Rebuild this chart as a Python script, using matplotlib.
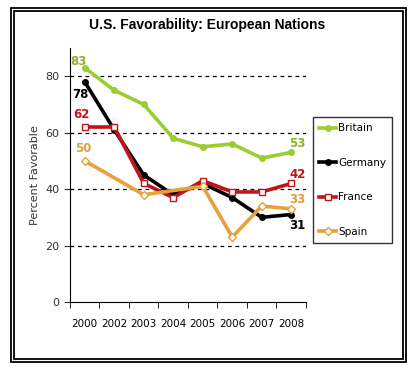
import numpy as np
import matplotlib
matplotlib.use("Agg")
import matplotlib.pyplot as plt
from matplotlib.patches import Rectangle

''' Data '''
years = ["2000", "2002", "2003", "2004", "2005", "2006", "2007", "2008"]
britain = [83, 75, 70, 58, 55, 56, 51, 53]
germany = [78, 61, 45, 38, 42, 37, 30, 31]
france = [62, 62, 42, 37, 43, 39, 39, 42]
spain = [50, np.nan, 38, np.nan, 41, 23, 34, 33]

''' Colours '''
c_brit = "#9ACD32"
c_ger = "#000000"
c_fra = "#C0141C"
c_spa = "#E8A03A"

fig = plt.figure(figsize=(4.14, 3.76), dpi=100)

# double frame round the whole picture
for (x0, y0, x1, y1) in [(11, 8, 406, 362), (14, 11, 403, 359)]:
    fig.patches.append(Rectangle((x0 / 414, 1 - y1 / 376), (x1 - x0) / 414, (y1 - y0) / 376,
                                 transform=fig.transFigure, fill=False, lw=1.3, ec="black"))

fig.text(0.5, 1 - 25 / 376, "U.S. Favorability: European Nations", ha="center", va="center",
         fontsize=10, fontweight="bold", family="Liberation Sans")

ax = fig.add_axes([70 / 414, 1 - 302 / 376, 236 / 414, 254 / 376])
x = np.arange(len(years))

def draw(vals, color, marker, face, ms, label):
    v = np.array(vals, dtype=float)
    m = ~np.isnan(v)
    ax.plot(x[m], v[m], color=color, lw=2.6, marker=marker, mfc=face, mec=color,
            ms=ms, mew=1, label=label, zorder=3)

draw(britain, c_brit, "o", c_brit, 4, "Britain")
draw(germany, c_ger, "o", c_ger, 4, "Germany")
draw(france, c_fra, "s", "white", 5, "France")
draw(spain, c_spa, "D", "white", 4, "Spain")

ax.set_xlim(-0.5, 7.5)
ax.set_ylim(0, 90)
ax.set_yticks([0, 20, 40, 60, 80])
for yv in [20, 40, 60, 80]:
    ax.axhline(yv, color="black", lw=0.9, ls=(0, (3, 3)), zorder=1)
ax.set_xticks(x)
ax.set_xticklabels(years)
ax.set_xticks(np.arange(-0.5, 8, 1), minor=True)
ax.tick_params(axis="x", which="major", length=0, pad=12, labelsize=7.5)
ax.tick_params(axis="x", which="minor", length=4, direction="out")
ax.tick_params(axis="y", length=4, direction="out", labelsize=8, colors="#333333")
ax.set_ylabel("Percent Favorable", fontsize=8, color="#333333")
for s in ["top", "right"]:
    ax.spines[s].set_visible(False)

# value labels at the start and end points
lab = dict(fontsize=8.5, fontweight="bold")
ax.text(-0.2, britain[0], str(britain[0]), color="#8FAE2A", ha="center", va="bottom", **lab)
ax.text(-0.15, germany[0] - 2, str(germany[0]), color=c_ger, ha="center", va="top", **lab)
ax.text(-0.1, france[0] + 2, str(france[0]), color=c_fra, ha="center", va="bottom", **lab)
ax.text(-0.05, spain[0] + 2, str(spain[0]), color="#D9A040", ha="center", va="bottom", **lab)
ax.text(7.2, britain[-1] + 1, str(britain[-1]), color="#8FAE2A", ha="center", va="bottom", **lab)
ax.text(7.2, france[-1] + 1, str(france[-1]), color=c_fra, ha="center", va="bottom", **lab)
ax.text(7.2, spain[-1] + 1, str(spain[-1]), color="#D9A040", ha="center", va="bottom", **lab)
ax.text(7.2, germany[-1] - 1.5, str(germany[-1]), color=c_ger, ha="center", va="top", **lab)

leg = fig.legend(loc="upper left", bbox_to_anchor=(313 / 414, 1 - 117 / 376), fontsize=7.5,
                 frameon=True, fancybox=False, edgecolor="black", handlelength=1.6,
                 labelspacing=2.35, borderpad=0.6, handletextpad=0.2, borderaxespad=0)
leg.get_frame().set_linewidth(1)

fig.savefig("out.png", dpi=100)
